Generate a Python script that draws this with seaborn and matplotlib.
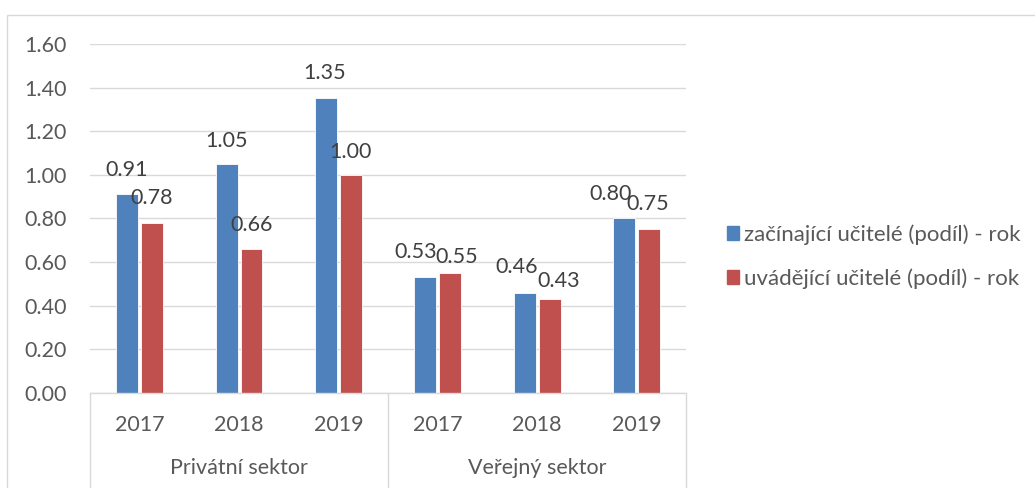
import numpy as np
import pandas as pd
import matplotlib.pyplot as plt
import seaborn as sns
from matplotlib.patches import Rectangle
from matplotlib.lines import Line2D

sns.set_style("white")
plt.rcParams['font.family'] = ['Lato', 'DejaVu Sans']

sectors = ['Privátní sektor', 'Veřejný sektor']
years = ['2017', '2018', '2019']
series_names = ['začínající učitelé (podíl) - rok', 'uvádějící učitelé (podíl) - rok']
zacinajici = [0.91, 1.05, 1.35, 0.53, 0.46, 0.80]
uvadejici = [0.78, 0.66, 1.00, 0.55, 0.43, 0.75]

keys = [s + ' ' + y for s in sectors for y in years]
df = pd.DataFrame({
    'key': keys * 2,
    'value': zacinajici + uvadejici,
    'series': [series_names[0]] * 6 + [series_names[1]] * 6,
})

text_col = '#595959'
grid_col = '#D9D9D9'
colors = ['#4F81BD', '#C0504D']
fs = 15.5

# label nudges in pixels (dx, height of label centre above bar top), like the manual placement in the original
nudges = [
    [(-1, 24), (0, 23), (-1, 25), (-10, 25), (-8, 26), (-14, 24)],
    [(-1, 25), (0, 24), (0, 23), (6, 16), (9, 18), (-1, 25)],
]

fig = plt.figure(figsize=(10.35, 4.88), dpi=100)
ax = fig.add_axes([0.087, 0.195, 0.576, 0.715])

sns.barplot(data=df, x='key', y='value', hue='series', palette=colors,
            width=0.5, gap=0.12, ax=ax, legend=False, saturation=1,
            linewidth=0.6, edgecolor='white')

ax.set_ylim(0, 1.6)
ax.set_xlim(-0.5, 5.5)
ticks = np.arange(0, 1.61, 0.2)
ax.set_yticks(ticks)
ax.set_yticklabels([f'{v:.2f}' for v in ticks], fontsize=fs, color=text_col)
ax.yaxis.grid(True, color=grid_col, linewidth=1)
ax.set_axisbelow(True)
ax.tick_params(axis='y', length=0, pad=16.5)
ax.tick_params(axis='x', length=0, pad=16)
ax.set_xticks(range(6))
ax.set_xticklabels(years * 2, fontsize=fs, color=text_col)
ax.set_xlabel('')
ax.set_ylabel('')
for side in ['top', 'right', 'left']:
    ax.spines[side].set_visible(False)
ax.spines['bottom'].set_color(grid_col)
ax.spines['bottom'].set_linewidth(1)

for cont, nd in zip(ax.containers, nudges):
    for bar, (dx, dy) in zip(cont, nd):
        xc = bar.get_x() + bar.get_width() / 2
        h = bar.get_height()
        ax.annotate(f'{h:.2f}', (xc, h), xytext=(dx, dy), textcoords='offset pixels',
                    ha='center', va='center', fontsize=fs, color='#404040')

# two-level category axis
for xpos in [-0.5, 2.5, 5.5]:
    ax.add_line(Line2D([xpos, xpos], [0, -0.5], color=grid_col, linewidth=1,
                       transform=ax.transData, clip_on=False))
for i, s in enumerate(sectors):
    ax.text(1 + 3 * i, -0.344, s, ha='center', va='center', fontsize=fs,
            color=text_col, transform=ax.transData, clip_on=False)

handles = [Rectangle((0, 0), 1, 1, color=c) for c in colors]
fig.legend(handles, series_names, loc='center left', bbox_to_anchor=(0.7024, 0.4744),
           frameon=False, fontsize=16, labelcolor=text_col, handlelength=0.55,
           handleheight=0.55, handletextpad=0.2, labelspacing=1.05, borderpad=0,
           borderaxespad=0)

fig.add_artist(Rectangle((0.007, -0.1), 1.1, 0.1 + 0.969, transform=fig.transFigure,
                         fill=False, edgecolor='#D9D9D9', linewidth=1))

fig.savefig('out.png', dpi=100)
